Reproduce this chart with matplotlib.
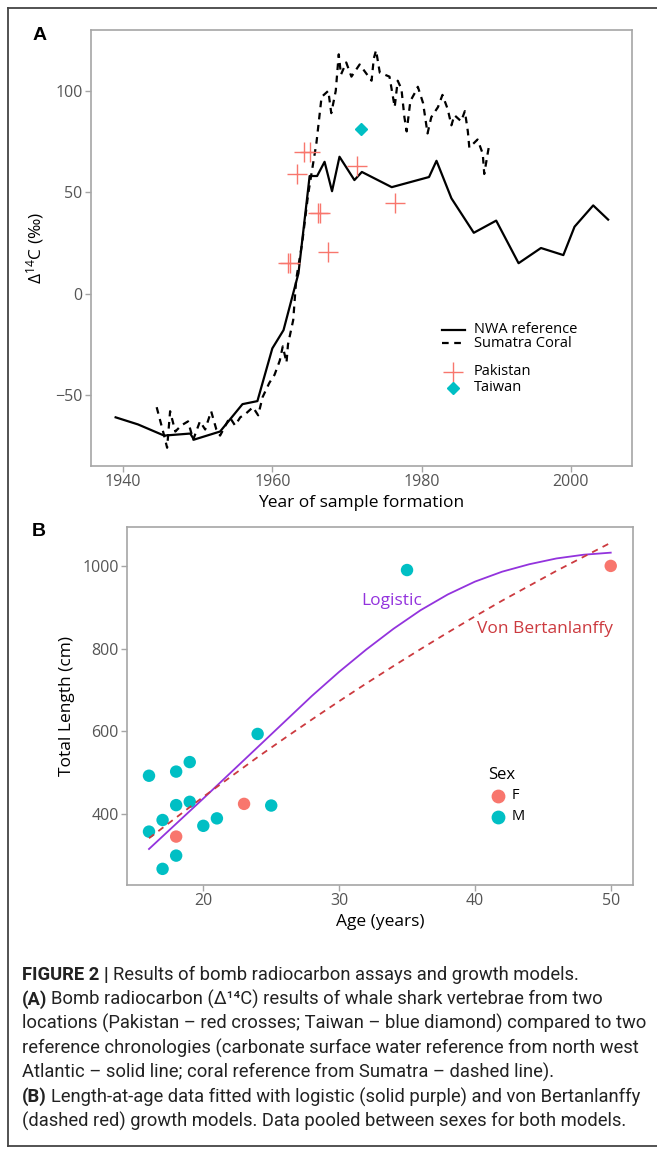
import matplotlib
matplotlib.use('Agg')
import matplotlib.pyplot as plt
from matplotlib import font_manager
from matplotlib.lines import Line2D

plt.rcParams['font.family'] = ['Open Sans', 'DejaVu Sans']
plt.rcParams['mathtext.fontset'] = 'custom'
plt.rcParams['mathtext.rm'] = 'Open Sans'
plt.rcParams['mathtext.it'] = 'Open Sans'

# ---- panel A: bomb radiocarbon ----
nwa_year = [1939, 1942, 1945.5, 1949, 1949.5, 1953, 1956, 1958, 1960, 1961.5,
            1963.5, 1965, 1966, 1967, 1968, 1969, 1971, 1972, 1976, 1981,
            1982, 1984, 1987, 1990, 1993, 1996, 1999, 2000.5, 2003, 2005]
nwa_d14c = [-61, -64.5, -70, -69, -72, -68, -54.5, -53, -27, -18,
            10, 58, 58, 65, 50.5, 67.5, 56, 60, 52.5, 57.5,
            65.5, 47, 30, 36, 15, 22.5, 19, 33, 43.5, 36.5]

coral_year = [1944.5, 1945.5, 1945.9, 1946.3, 1947, 1947.8, 1948.7, 1949.4, 1950.3, 1951,
              1951.8, 1952.5, 1953, 1954.3, 1955, 1955.7, 1956.5, 1957.4, 1958.1, 1958.7,
              1959.6, 1960.3, 1961, 1961.4, 1961.9, 1962.1, 1962.8, 1963.2, 1964, 1964.8,
              1965.9, 1966.6, 1967.5, 1967.9, 1968.5, 1968.9, 1969.2, 1969.9, 1970.6, 1971.7,
              1972.5, 1973.3, 1973.6, 1973.9, 1974.4, 1975.7, 1976.4, 1976.8, 1977.3, 1977.7,
              1978, 1978.5, 1979.1, 1979.5, 1980.2, 1980.8, 1981.3, 1982.2, 1982.8, 1983.5,
              1984, 1984.4, 1985.3, 1985.8, 1986.2, 1986.4, 1987.5, 1988.2, 1988.4, 1988.9,
              1989.1]
coral_d14c = [-56, -70, -76, -58, -68, -65, -63, -72, -63, -67,
              -58, -67, -70, -61, -65, -61, -59, -56, -60, -51,
              -44, -40, -33, -26, -34, -25, -13, 7, 25, 49,
              74, 97, 100, 89, 100, 118, 108, 114, 107, 113,
              109, 105, 116, 120, 109, 107, 92, 105, 101, 87,
              80, 95, 99, 102, 94, 79, 87, 92, 98, 91,
              83, 88, 85, 90, 80, 72, 76, 69, 59, 70,
              74]

pak_year = [1962.1, 1962.4, 1963.3, 1964.3, 1965.1, 1966.1, 1966.4, 1967.4, 1971.3, 1976.4]
pak_d14c = [15, 15, 59, 70, 70, 40, 40, 20.5, 63, 44.5]
taiwan_year = [1971.9]
taiwan_d14c = [81]

# ---- panel B: length at age ----
age_m = [16, 18, 19, 24, 18, 19, 17, 16, 20, 21, 25, 18, 17, 35]
len_m = [493, 503, 526, 594, 422, 430, 386, 358, 372, 390, 421, 300, 268, 990]
age_f = [18, 23, 50]
len_f = [346, 425, 1000]

fit_age = [16, 18, 20, 22, 24, 26, 28, 30, 32, 34, 36, 38, 40, 42, 44, 46, 48, 50]
logistic_len = [316, 377, 438, 500, 562, 624, 686, 744, 798, 848, 893, 931, 962, 986, 1004, 1018, 1027, 1032]
vb_len = [342, 392, 442, 490, 538, 584, 629, 673, 716, 758, 799, 839, 878, 916, 952, 988, 1022, 1056]

W, H = 657, 1153
TEAL, SALMON = '#00BFC4', '#F8766D'
SPINE, TICKC = '#a6a6a6', '#555555'

fig = plt.figure(figsize=(W / 100, H / 100), dpi=100)


def px_axes(x0, y0, x1, y1):
    return fig.add_axes([x0 / W, 1 - y1 / H, (x1 - x0) / W, (y1 - y0) / H])


def style(ax):
    for s in ax.spines.values():
        s.set_color(SPINE)
        s.set_linewidth(1.2)
    ax.tick_params(direction='out', length=4, width=1, color=SPINE,
                   labelcolor=TICKC, labelsize=11.5, pad=2)


# outer frame
for xs, ys in [([8, W], [8, 8]), ([8, 8], [8, 1146]), ([8, W], [1146, 1146])]:
    fig.add_artist(Line2D([x / W for x in xs], [1 - y / H for y in ys],
                          transform=fig.transFigure, color='#444444', lw=1.3))

# ---------------- A ----------------
axA = px_axes(91, 30, 632, 466)
style(axA)
axA.plot(nwa_year, nwa_d14c, color='black', lw=1.6)
ln, = axA.plot(coral_year, coral_d14c, color='black', lw=1.6)
ln.set_dashes((3, 2.5))
axA.plot(pak_year, pak_d14c, ls='none', marker='+', ms=14, mew=1.0, color=SALMON)
axA.plot(taiwan_year, taiwan_d14c, ls='none', marker='D', ms=6.5, color=TEAL)
axA.set_xlim(1935.7, 2008.2)
axA.set_ylim(-85, 130)
axA.set_xticks([1940, 1960, 1980, 2000])
axA.set_yticks([-50, 0, 50, 100])
axA.set_xlabel('Year of sample formation', fontsize=12.5, labelpad=3)
axA.set_ylabel(r'$\Delta^{14}$C (‰)', fontsize=12.5, labelpad=7)

# legend (drawn in axes space)
tA = axA.transAxes
axA.plot([0.648, 0.691], [0.312, 0.312], transform=tA, color='black', lw=1.6)
l2, = axA.plot([0.648, 0.691], [0.282, 0.282], transform=tA, color='black', lw=1.6)
l2.set_dashes((3, 2.5))
axA.plot([0.670], [0.216], transform=tA, marker='+', ms=14, mew=1.0, color=SALMON)
axA.plot([0.670], [0.179], transform=tA, marker='D', ms=6.5, color=TEAL)
for y, s in [(0.312, 'NWA reference'), (0.282, 'Sumatra Coral'),
             (0.216, 'Pakistan'), (0.179, 'Taiwan')]:
    axA.text(0.708, y, s, transform=tA, fontsize=10.5, va='center', ha='left')

# ---------------- B ----------------
axB = px_axes(127, 527, 633, 885)
style(axB)
axB.plot(fit_age, logistic_len, color='#9333DD', lw=1.3, zorder=3)
vb, = axB.plot(fit_age, vb_len, color='#CC3A3F', lw=1.3, zorder=3)
vb.set_dashes((3.5, 3))
axB.scatter(age_m, len_m, s=80, color=TEAL, edgecolors='none', zorder=2)
axB.scatter(age_f, len_f, s=80, color=SALMON, edgecolors='none', zorder=2)
axB.set_xlim(14.38, 51.64)
axB.set_ylim(229, 1094)
axB.set_xticks([20, 30, 40, 50])
axB.set_yticks([400, 600, 800, 1000])
axB.set_xlabel('Age (years)', fontsize=12.5, labelpad=3)
axB.set_ylabel('Total Length (cm)', fontsize=12.5, labelpad=5)

tB = axB.transAxes
axB.text(0.462, 0.794, 'Logistic', transform=tB, color='#9333DD', fontsize=12.5, va='center')
axB.text(0.692, 0.715, 'Von Bertanlanffy', transform=tB, color='#CC3A3F', fontsize=12.5, va='center')
axB.text(0.713, 0.307, 'Sex', transform=tB, fontsize=12, va='center')
axB.scatter([0.733], [0.249], s=80, color=SALMON, transform=tB, clip_on=False)
axB.scatter([0.733], [0.190], s=80, color=TEAL, transform=tB, clip_on=False)
axB.text(0.761, 0.249, 'F', transform=tB, fontsize=10.5, va='center')
axB.text(0.761, 0.190, 'M', transform=tB, fontsize=10.5, va='center')

# panel letters
fig.text(33 / W, 1 - 36 / H, 'A', family=['Liberation Sans', 'DejaVu Sans'],
         fontweight='bold', fontsize=14, va='center')
fig.text(32 / W, 1 - 531 / H, 'B', family=['Liberation Sans', 'DejaVu Sans'],
         fontweight='bold', fontsize=14, va='center')

# ---------------- caption ----------------
names = {f.name for f in font_manager.fontManager.ttflist}
cap_font = 'Liberation Sans Narrow' if 'Liberation Sans Narrow' in names else 'Roboto'
cap_kw = dict(family=[cap_font, 'DejaVu Sans'], fontsize=13.2, va='center', color='#222222')
caption = [
    ('FIGURE 2 |', 'Results of bomb radiocarbon assays and growth models.'),
    ('(A)', 'Bomb radiocarbon (Δ¹⁴C) results of whale shark vertebrae from two'),
    ('', 'locations (Pakistan – red crosses; Taiwan – blue diamond) compared to two'),
    ('', 'reference chronologies (carbonate surface water reference from north west'),
    ('', 'Atlantic – solid line; coral reference from Sumatra – dashed line).'),
    ('(B)', 'Length-at-age data fitted with logistic (solid purple) and von Bertanlanffy'),
    ('', '(dashed red) growth models. Data pooled between sexes for both models.'),
]
renderer = fig.canvas.get_renderer()
y_px = 975
for bold, rest in caption:
    x_px = 22
    if bold:
        t = fig.text(x_px / W, 1 - y_px / H, bold, fontweight='bold', **cap_kw)
        bb = t.get_window_extent(renderer)
        x_px = bb.x1 + 4
    fig.text(x_px / W, 1 - y_px / H, rest, **cap_kw)
    y_px += 24.4

fig.savefig('out.png', dpi=100)
